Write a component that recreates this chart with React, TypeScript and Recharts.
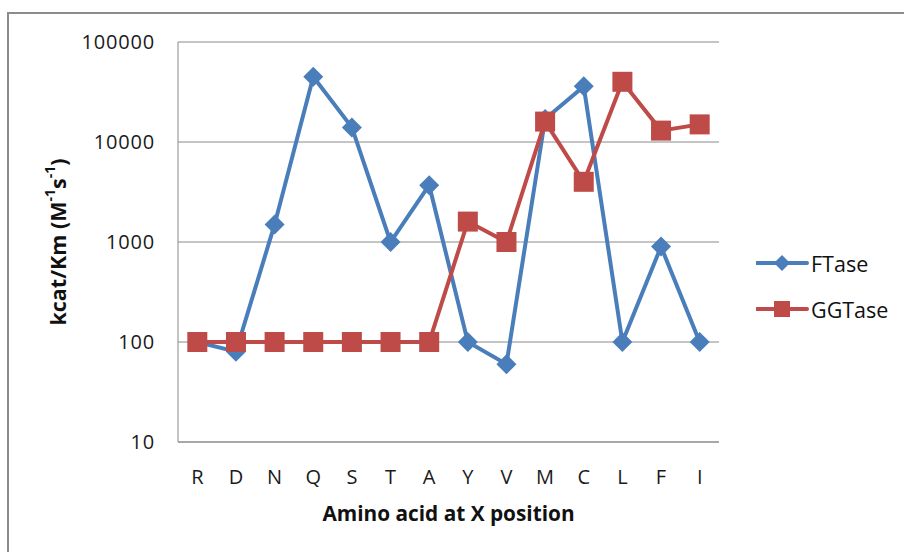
import { CartesianGrid, Legend, Line, LineChart, XAxis, YAxis } from "recharts";

const aminoAcids = ["R", "D", "N", "Q", "S", "T", "A", "Y", "V", "M", "C", "L", "F", "I"];
const ftaseValues = [100, 80, 1500, 45000, 14000, 1000, 3700, 100, 60, 17000, 36000, 100, 900, 100];
const ggtaseValues = [100, 100, 100, 100, 100, 100, 100, 1600, 1000, 16000, 4000, 40000, 13000, 15000];
const yTicks = [10, 100, 1000, 10000, 100000];

const BLUE = "#4a7ebb";
const RED = "#be4b48";
const GRID = "#8a8a8a";
const FONT = "'Open Sans', 'Noto Sans', sans-serif";

const data = aminoAcids.map((aa, i) => ({ aa, ftase: ftaseValues[i], ggtase: ggtaseValues[i] }));

function DiamondDot(props: any) {
  const { cx, cy } = props;
  if (cx == null || cy == null) return null;
  const r = 10;
  return <path d={`M${cx},${cy - r}L${cx + r},${cy}L${cx},${cy + r}L${cx - r},${cy}Z`} fill={BLUE} />;
}

function SquareDot(props: any) {
  const { cx, cy } = props;
  if (cx == null || cy == null) return null;
  const h = 10;
  return <rect x={cx - h} y={cy - h} width={h * 2} height={h * 2} fill={RED} />;
}

function YTitle(props: any) {
  const vb = props.viewBox;
  const cx = vb.x + 57;
  const cy = vb.y + vb.height / 2;
  return (
    <text
      x={cx}
      y={cy}
      transform={`rotate(-90, ${cx}, ${cy})`}
      textAnchor="middle"
      dominantBaseline="central"
      fontFamily={FONT}
      fontWeight={700}
      fontSize={21.5}
      fill="#111"
    >
      kcat/Km (M
      <tspan fontSize={14} dy={-8}>-1</tspan>
      <tspan dy={8}>s</tspan>
      <tspan fontSize={14} dy={-8}>-1</tspan>
      <tspan dy={8}>)</tspan>
    </text>
  );
}

function XTitle(props: any) {
  const vb = props.viewBox;
  return (
    <text x={vb.x + vb.width / 2} y={vb.y + 79} textAnchor="middle" fontFamily={FONT} fontWeight={700} fontSize={20.8} fill="#111">
      Amino acid at X position
    </text>
  );
}

function LegendBox(props: any) {
  const items = props.payload || [];
  return (
    <div style={{ fontFamily: FONT, fontSize: 21.5, color: "#111" }}>
      {items.map((it: any) => (
        <div key={it.value} style={{ display: "flex", alignItems: "center", height: 46 }}>
          <svg width={54} height={20} style={{ display: "block" }}>
            <line x1={1} y1={10} x2={51} y2={10} stroke={it.color} strokeWidth={4} strokeLinecap="round" />
            {it.dataKey === "ftase" ? (
              <path d="M26,2L34,10L26,18L18,10Z" fill={it.color} />
            ) : (
              <rect x={18} y={2} width={16} height={16} fill={it.color} />
            )}
          </svg>
          <span style={{ marginLeft: 1 }}>{it.value}</span>
        </div>
      ))}
    </div>
  );
}

export default function App() {
  return (
    <div style={{ position: "absolute", left: 0, top: 0, width: 904, height: 552, overflow: "hidden", background: "#fff" }}>
      <div
        style={{
          position: "absolute",
          left: 7,
          top: 12,
          width: 960,
          height: 600,
          border: "2px solid #8c8c8c",
        }}
      />
      <div style={{ position: "absolute", left: 0, top: 0 }}>
        <LineChart width={904} height={552} data={data} margin={{ top: 42, right: 185, bottom: 0, left: 0 }}>
          <CartesianGrid vertical={false} stroke={GRID} strokeWidth={1} />
          <XAxis
            dataKey="aa"
            scale="band"
            height={110}
            tickLine={false}
            tickSize={0}
            tickMargin={28}
            axisLine={{ stroke: GRID }}
            tick={{ fontSize: 20, fill: "#1a1a1a", fontFamily: FONT }}
            interval={0}
            label={<XTitle />}
          />
          <YAxis
            width={178}
            type="number"
            scale="log"
            domain={[10, 100000]}
            ticks={yTicks}
            allowDataOverflow
            tickLine={false}
            tickSize={0}
            tickMargin={23}
            axisLine={{ stroke: GRID }}
            tick={{ fontSize: 20, fill: "#1a1a1a", fontFamily: FONT, letterSpacing: 0.8 }}
            tickFormatter={(v) => String(v)}
            label={<YTitle />}
          />
          <Legend
            layout="vertical"
            align="center"
            verticalAlign="middle"
            wrapperStyle={{ left: 756, top: 240, width: 148 }}
            content={<LegendBox />}
          />
          <Line
            type="linear"
            dataKey="ftase"
            name="FTase"
            stroke={BLUE}
            strokeWidth={4}
            dot={<DiamondDot />}
            activeDot={false}
            isAnimationActive={false}
          />
          <Line
            type="linear"
            dataKey="ggtase"
            name="GGTase"
            stroke={RED}
            strokeWidth={4}
            dot={<SquareDot />}
            activeDot={false}
            isAnimationActive={false}
          />
        </LineChart>
      </div>
    </div>
  );
}
